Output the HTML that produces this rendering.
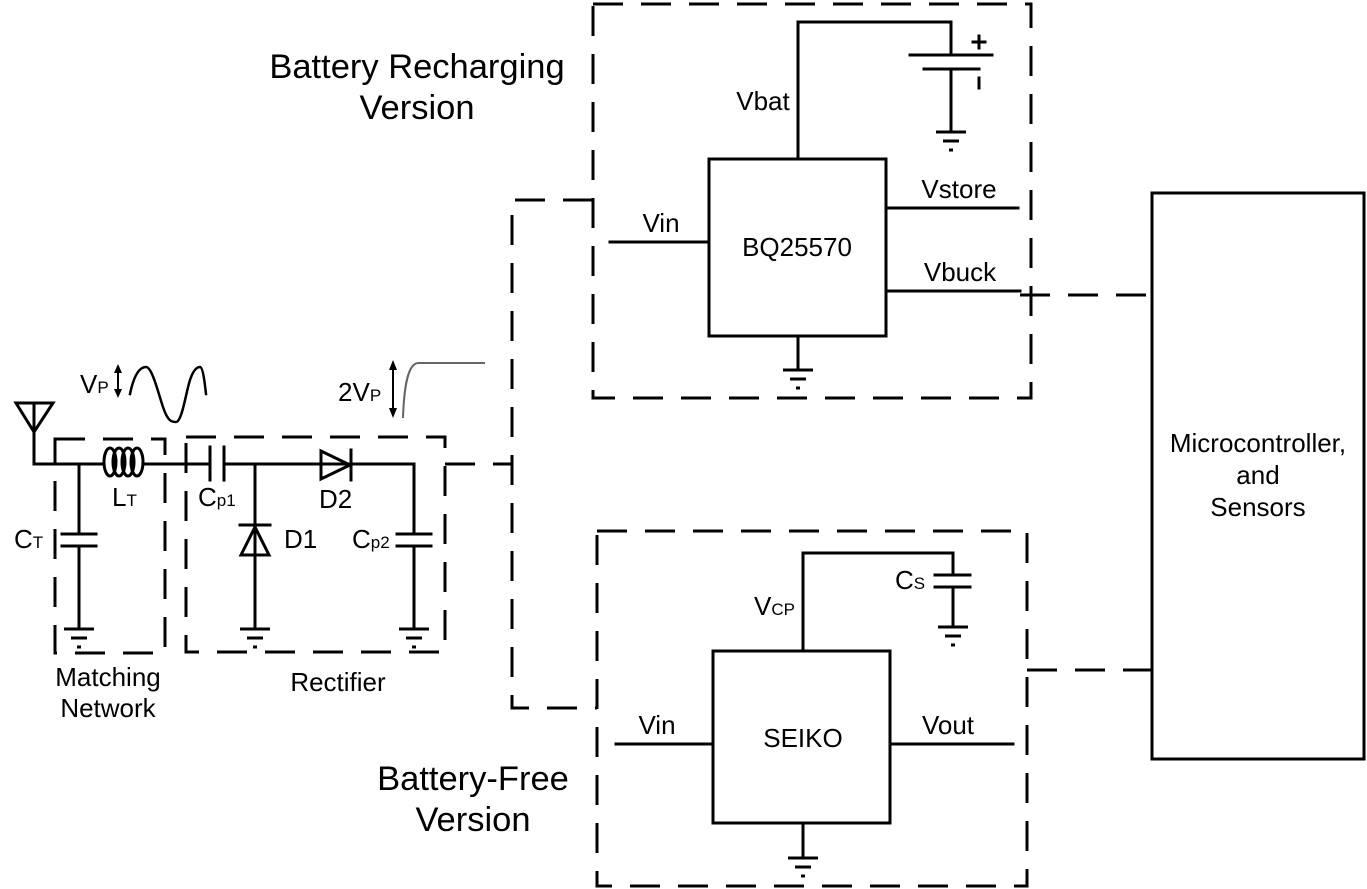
<!DOCTYPE html>
<html><head><meta charset="utf-8"><style>
html,body{margin:0;padding:0;background:#fff;}
svg{display:block;}
text{font-family:"Liberation Sans",Arial,sans-serif;fill:#000;}
</style></head><body>
<svg width="1367" height="889" viewBox="0 0 1367 889" xmlns="http://www.w3.org/2000/svg">
<defs>
<g id="gnd" stroke="#000" stroke-width="3" fill="none">
<line x1="-15" y1="0" x2="15" y2="0"/>
<line x1="-8" y1="9" x2="8" y2="9"/>
<line x1="-2" y1="18" x2="2" y2="18"/>
</g>
</defs>
<g fill="none" stroke="#000" stroke-width="3" stroke-linecap="square">
<g stroke-dasharray="30,18" stroke-linecap="butt">
<rect x="593" y="4" width="438" height="394"/>
<rect x="597" y="531" width="430" height="355"/>
<rect x="55" y="439" width="110" height="214"/>
<rect x="186" y="437" width="259" height="215"/>
<polyline points="593,200 512,200 512,708 597,708"/>
<line x1="445" y1="464" x2="512" y2="464"/>
<line x1="1020" y1="295" x2="1152" y2="295"/>
<line x1="1027" y1="670" x2="1152" y2="670"/>
</g>
<rect x="1152" y="193" width="212" height="566"/>
<rect x="709" y="159" width="177" height="177"/>
<line x1="610" y1="242" x2="709" y2="242"/>
<line x1="886" y1="208" x2="1018" y2="208"/>
<line x1="886" y1="291" x2="1020" y2="291"/>
<polyline points="798,159 798,22 951,22 951,55"/>
<line x1="910" y1="55" x2="992" y2="55"/>
<line x1="924" y1="69" x2="979" y2="69"/>
<line x1="951" y1="69" x2="951" y2="130"/>
<line x1="979" y1="78" x2="979" y2="88"/>
<line x1="973" y1="42" x2="985" y2="42"/>
<line x1="979" y1="36" x2="979" y2="48"/>
<line x1="798" y1="336" x2="798" y2="368"/>
<rect x="713" y="651" width="177" height="172"/>
<line x1="616" y1="744" x2="713" y2="744"/>
<line x1="890" y1="744" x2="1013" y2="744"/>
<polyline points="803,651 803,553 953,553 953,575"/>
<line x1="935" y1="575" x2="970" y2="575"/>
<line x1="935" y1="587" x2="970" y2="587"/>
<line x1="953" y1="587" x2="953" y2="625"/>
<line x1="803" y1="823" x2="803" y2="856"/>
<polygon points="16,403 53,403 34,432" stroke-linejoin="miter"/>
<polyline points="34,405 34,464 102,464"/>
<ellipse cx="110" cy="462" rx="6" ry="14"/>
<ellipse cx="119" cy="462" rx="6" ry="14"/>
<ellipse cx="128" cy="462" rx="6" ry="14"/>
<ellipse cx="137" cy="462" rx="6" ry="14"/>
<line x1="143" y1="464" x2="210" y2="464"/>
<line x1="210" y1="447" x2="210" y2="480"/>
<line x1="224" y1="447" x2="224" y2="480"/>
<line x1="224" y1="464" x2="414" y2="464"/>
<polygon points="321,451 321,479 350,465" stroke-linejoin="miter"/>
<line x1="351" y1="450" x2="351" y2="480"/>
<line x1="79" y1="464" x2="79" y2="534"/>
<line x1="62" y1="534" x2="96" y2="534"/>
<line x1="62" y1="546" x2="96" y2="546"/>
<line x1="79" y1="546" x2="79" y2="628"/>
<line x1="255" y1="464" x2="255" y2="628"/>
<line x1="240" y1="525" x2="270" y2="525"/>
<polygon points="255,527 241,555 269,555" stroke-linejoin="miter"/>
<line x1="414" y1="464" x2="414" y2="534"/>
<line x1="397" y1="534" x2="431" y2="534"/>
<line x1="397" y1="546" x2="431" y2="546"/>
<line x1="414" y1="546" x2="414" y2="628"/>
<path d="M130,394 C135,370 142,367 146,367 C152,367 158,392 163,407 C168,422 172,422 176,422 C182,422 186,392 190,380 C194,368 198,367 200,367 C203,367 205,385 206,394" stroke-width="2.5"/>
<line x1="118" y1="372" x2="118" y2="390" stroke-width="2"/>
<line x1="393" y1="366" x2="393" y2="412" stroke-width="2"/>
<path d="M403,417 C404,390 407,364 418,363 L484,363" stroke="#666" stroke-width="2"/>
</g>
<g fill="#000">
<polygon points="114,373 118,364 122,373"/>
<polygon points="114,389 118,398 122,389"/>
<polygon points="389,370 393,360 397,370"/>
<polygon points="389,408 393,418 397,408"/>
</g>
<use href="#gnd" x="798" y="370"/>
<use href="#gnd" x="951" y="132"/>
<use href="#gnd" x="953" y="627"/>
<use href="#gnd" x="803" y="858"/>
<use href="#gnd" x="79" y="629"/>
<use href="#gnd" x="255" y="629"/>
<use href="#gnd" x="414" y="629"/>
<g font-size="34.5">
<text x="417" y="78" text-anchor="middle">Battery Recharging</text>
<text x="417" y="119" text-anchor="middle">Version</text>
<text x="473" y="790" text-anchor="middle">Battery-Free</text>
<text x="473" y="831" text-anchor="middle">Version</text>
</g>
<g font-size="26">
<text x="763" y="110" text-anchor="middle">Vbat</text>
<text x="661" y="232" text-anchor="middle">Vin</text>
<text x="797" y="256" text-anchor="middle">BQ25570</text>
<text x="959" y="198" text-anchor="middle">Vstore</text>
<text x="960" y="281" text-anchor="middle">Vbuck</text>
<text x="657" y="734" text-anchor="middle">Vin</text>
<text x="803" y="747" text-anchor="middle">SEIKO</text>
<text x="948" y="734" text-anchor="middle">Vout</text>
<text x="754" y="615">V<tspan font-size="17">CP</tspan></text>
<text x="895" y="589">C<tspan font-size="17">S</tspan></text>
<text x="1258" y="452" text-anchor="middle">Microcontroller,</text>
<text x="1258" y="484" text-anchor="middle">and</text>
<text x="1258" y="516" text-anchor="middle">Sensors</text>
<text x="108" y="686" text-anchor="middle">Matching</text>
<text x="108" y="717" text-anchor="middle">Network</text>
<text x="338" y="691" text-anchor="middle">Rectifier</text>
<text x="80" y="393">V<tspan font-size="17">P</tspan></text>
<text x="338" y="401">2V<tspan font-size="17">P</tspan></text>
<text x="112" y="506">L<tspan font-size="17">T</tspan></text>
<text x="198" y="506">C<tspan font-size="17">p1</tspan></text>
<text x="319" y="508">D2</text>
<text x="284" y="548">D1</text>
<text x="352" y="548">C<tspan font-size="17">p2</tspan></text>
<text x="14" y="548">C<tspan font-size="17">T</tspan></text>
</g>
</svg>
</body></html>
